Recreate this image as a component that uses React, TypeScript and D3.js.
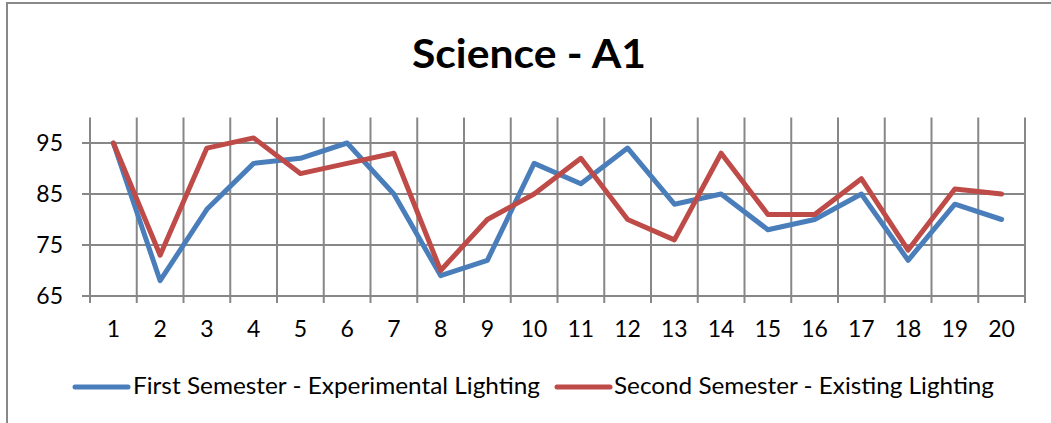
import React from "react";
import * as d3 from "d3";

const categories = ["1","2","3","4","5","6","7","8","9","10","11","12","13","14","15","16","17","18","19","20"];
const firstSemester = [95, 68, 82, 91, 92, 95, 85, 69, 72, 91, 87, 94, 83, 85, 78, 80, 85, 72, 83, 80];
const secondSemester = [95, 73, 94, 96, 89, 91, 93, 70, 80, 85, 92, 80, 76, 93, 81, 81, 88, 74, 86, 85];
const yTicks = [65, 75, 85, 95];
const seriesNames = ["First Semester - Experimental Lighting", "Second Semester - Existing Lighting"];

const W = 1051, H = 423;
const FONT = "Lato, 'Open Sans', 'Liberation Sans', sans-serif";
const BLUE = "#4A7EBB";
const RED = "#BE4B48";
const GRID = "#878787";

export default function App() {
  const x = d3.scaleBand<string>().domain(categories).range([90, 1025]).padding(0);
  const y = d3.scaleLinear().domain([65, 100]).range([296, 117.5]);
  const cx = (c: string) => (x(c) as number) + x.bandwidth() / 2;
  const line = d3.line<number>().x((_, i) => cx(categories[i])).y((v) => y(v));
  const vx = d3.range(categories.length + 1).map((k) => 90 + k * x.bandwidth());

  return (
    <svg width={W} height={H} style={{ position: "absolute", left: 0, top: 0, display: "block", background: "#fff" }}>
      <rect x={7} y={3} width={1100} height={500} fill="#fff" stroke="#898989" strokeWidth={2} />
      <text x={529} y={68} textAnchor="middle" fontFamily={FONT} fontWeight={700} fontSize={40} textLength={234} lengthAdjust="spacingAndGlyphs" fill="#000">Science - A1</text>
      {yTicks.map((t) => (
        <line key={"h" + t} x1={82} x2={1025} y1={y(t)} y2={y(t)} stroke={GRID} strokeWidth={2} />
      ))}
      {vx.map((v, i) => (
        <line key={"v" + i} x1={v} x2={v} y1={117.5} y2={303} stroke={GRID} strokeWidth={2} />
      ))}
      {yTicks.map((t) => (
        <text key={"yl" + t} x={63} y={y(t)} dy="0.35em" textAnchor="end" fontFamily={FONT} fontSize={23} fill="#000">{t}</text>
      ))}
      {categories.map((c) => (
        <text key={"xl" + c} x={cx(c)} y={337} textAnchor="middle" fontFamily={FONT} fontSize={23} fill="#000">{c}</text>
      ))}
      <path d={line(firstSemester) || ""} fill="none" stroke={BLUE} strokeWidth={5} strokeLinejoin="round" strokeLinecap="round" />
      <path d={line(secondSemester) || ""} fill="none" stroke={RED} strokeWidth={5} strokeLinejoin="round" strokeLinecap="round" />
      <line x1={75} x2={128} y1={387} y2={387} stroke={BLUE} strokeWidth={5} strokeLinecap="round" />
      <text x={133} y={394} fontFamily={FONT} fontSize={23} textLength={407} lengthAdjust="spacingAndGlyphs" fill="#000">{seriesNames[0]}</text>
      <line x1={557} x2={610} y1={387} y2={387} stroke={RED} strokeWidth={5} strokeLinecap="round" />
      <text x={614} y={394} fontFamily={FONT} fontSize={23} textLength={380} lengthAdjust="spacingAndGlyphs" fill="#000">{seriesNames[1]}</text>
    </svg>
  );
}
